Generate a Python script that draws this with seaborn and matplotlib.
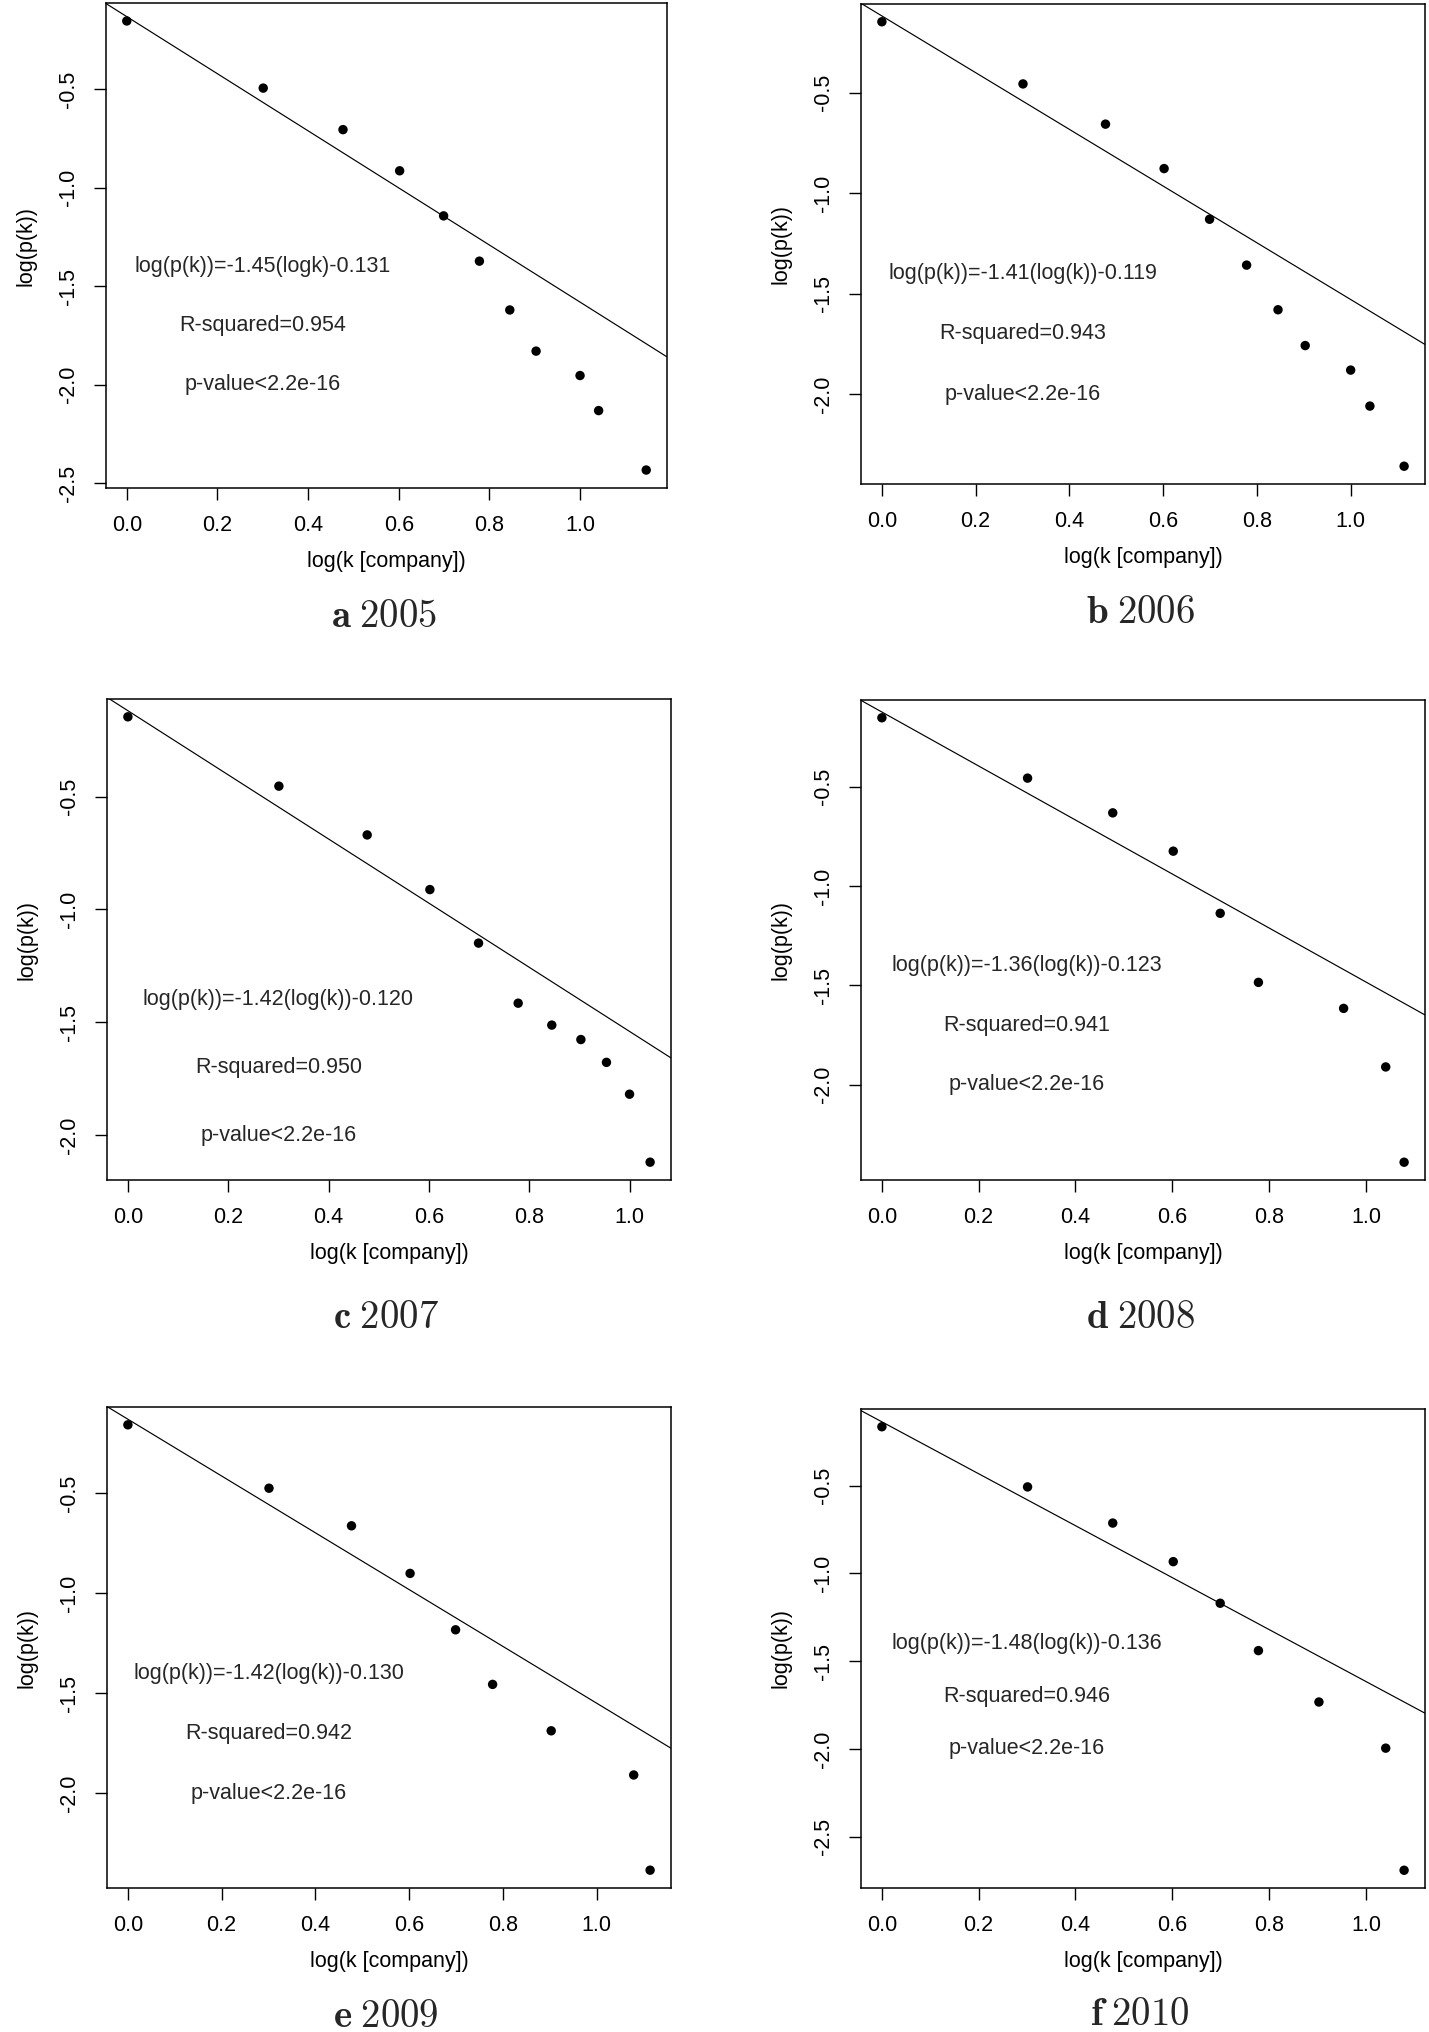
import matplotlib
matplotlib.use("Agg")
import matplotlib.pyplot as plt
import seaborn as sns
import pandas as pd
from matplotlib.ticker import MultipleLocator, FormatStrFormatter

# degree distributions, log10 scale, one panel per year
years = [2005, 2006, 2007, 2008, 2009, 2010]
letters = ["a", "b", "c", "d", "e", "f"]

logk_2005 = [0.0, 0.301, 0.477, 0.602, 0.699, 0.778, 0.845, 0.903, 1.0, 1.041, 1.146]
logp_2005 = [-0.153, -0.494, -0.705, -0.914, -1.143, -1.373, -1.621, -1.830, -1.954, -2.132, -2.434]

logk_2006 = [0.0, 0.301, 0.477, 0.602, 0.699, 0.778, 0.845, 0.903, 1.0, 1.041, 1.114]
logp_2006 = [-0.148, -0.457, -0.657, -0.878, -1.130, -1.358, -1.580, -1.758, -1.880, -2.059, -2.358]

logk_2007 = [0.0, 0.301, 0.477, 0.602, 0.699, 0.778, 0.845, 0.903, 0.954, 1.0, 1.041]
logp_2007 = [-0.147, -0.454, -0.670, -0.912, -1.149, -1.415, -1.512, -1.576, -1.677, -1.818, -2.119]

logk_2008 = [0.0, 0.301, 0.477, 0.602, 0.699, 0.778, 0.954, 1.041, 1.079]
logp_2008 = [-0.152, -0.456, -0.631, -0.824, -1.137, -1.485, -1.616, -1.911, -2.391]

logk_2009 = [0.0, 0.301, 0.477, 0.602, 0.699, 0.778, 0.903, 1.079, 1.114]
logp_2009 = [-0.158, -0.475, -0.663, -0.901, -1.183, -1.456, -1.688, -1.909, -2.385]

logk_2010 = [0.0, 0.301, 0.477, 0.602, 0.699, 0.778, 0.903, 1.041, 1.079]
logp_2010 = [-0.164, -0.507, -0.713, -0.933, -1.170, -1.440, -1.733, -1.996, -2.692]

slopes = [-1.45, -1.41, -1.42, -1.36, -1.42, -1.48]
intercepts = [-0.131, -0.119, -0.120, -0.123, -0.130, -0.136]
r_squared = ["0.954", "0.943", "0.950", "0.941", "0.942", "0.946"]
equations = [
    "log(p(k))=-1.45(logk)-0.131",
    "log(p(k))=-1.41(log(k))-0.119",
    "log(p(k))=-1.42(log(k))-0.120",
    "log(p(k))=-1.36(log(k))-0.123",
    "log(p(k))=-1.42(log(k))-0.130",
    "log(p(k))=-1.48(log(k))-0.136",
]

xs = [logk_2005, logk_2006, logk_2007, logk_2008, logk_2009, logk_2010]
ys = [logp_2005, logp_2006, logp_2007, logp_2008, logp_2009, logp_2010]

sns.set_theme(style="ticks")
plt.rcParams["font.family"] = ["Liberation Sans", "DejaVu Sans"]
plt.rcParams["mathtext.fontset"] = "cm"
plt.rcParams["axes.unicode_minus"] = False

W, H = 1429, 2032
fig = plt.figure(figsize=(W / 100, H / 100), dpi=100)

# panel boxes in pixels: left, top, right, bottom
boxes = [
    (106, 3, 667, 488),
    (861, 4, 1425, 484),
    (107, 699, 671, 1180),
    (861, 700, 1425, 1180),
    (107, 1407, 671, 1888),
    (861, 1409, 1425, 1888),
]
cap_y = [-0.267, -0.269, -0.287, -0.287, -0.268, -0.265]
fs = 15.5

for i in range(6):
    l, t, r, b = boxes[i]
    ax = fig.add_axes([l / W, 1 - b / H, (r - l) / W, (b - t) / H])
    df = pd.DataFrame({"logk": xs[i], "logp": ys[i]})
    sns.scatterplot(data=df, x="logk", y="logp", ax=ax, color="black",
                    edgecolor="none", s=46, zorder=3)

    # R style 4% padding around the data
    x0, x1 = min(xs[i]), max(xs[i])
    y0, y1 = min(ys[i]), max(ys[i])
    px, py = 0.04 * (x1 - x0), 0.04 * (y1 - y0)
    ax.set_xlim(x0 - px, x1 + px)
    ax.set_ylim(y0 - py, y1 + py)

    ax.axline((0, intercepts[i]), slope=slopes[i], color="black", lw=0.85)

    ax.xaxis.set_major_locator(MultipleLocator(0.2))
    ax.yaxis.set_major_locator(MultipleLocator(0.5))
    ax.xaxis.set_major_formatter(FormatStrFormatter("%.1f"))
    ax.yaxis.set_major_formatter(FormatStrFormatter("%.1f"))
    ax.tick_params(direction="out", length=8.6, width=1.0, labelsize=fs,
                   colors="black", pad=11)
    plt.setp(ax.get_yticklabels(), rotation=90, va="center")

    for sp in ax.spines.values():
        sp.set_visible(True)
        sp.set_color("black")
        sp.set_linewidth(1.1)

    ax.set_xlabel("log(k [company])", fontsize=fs, color="black", labelpad=11)
    ax.set_ylabel("log(p(k))", fontsize=fs, color="black", labelpad=15)

    ax.text(0.3, -1.4, equations[i], ha="center", va="center", fontsize=fs)
    ax.text(0.3, -1.7, "R-squared=" + r_squared[i], ha="center", va="center", fontsize=fs)
    ax.text(0.3, -2.0, "p-value<2.2e-16", ha="center", va="center", fontsize=fs)

    ax.text(0.495, cap_y[i], r"$\mathbf{%s}\;\mathrm{%d}$" % (letters[i], years[i]),
            transform=ax.transAxes, ha="center", va="center", fontsize=28)

fig.savefig("out.png", dpi=100)
